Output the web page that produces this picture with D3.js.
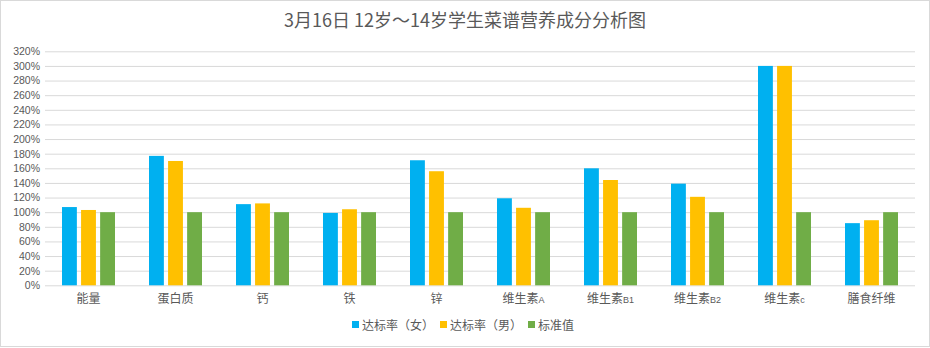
<!DOCTYPE html>
<html><head><meta charset="utf-8">
<script src="https://cdn.jsdelivr.net/npm/d3@7"></script>
<style>body{margin:0;background:#fff;}svg{display:block;font-family:"Noto Sans CJK SC","Microsoft YaHei",sans-serif;}</style>
</head><body>
<svg id="c" width="930" height="348"></svg>
<script>
const categories = ["能量","蛋白质","钙","铁","锌","维生素A","维生素B1","维生素B2","维生素c","膳食纤维"];
const seriesNames = ["达标率（女）","达标率（男）","标准值"];
const female = [107,177,111,99,171,119,160,139,300,85];
const male = [103,170,112,104,156,106,144,121,300,89];
const standard = [100,100,100,100,100,100,100,100,100,100];
const yTicks = [0,20,40,60,80,100,120,140,160,180,200,220,240,260,280,300,320];
const colors = ["#00b0f0","#ffc000","#70ad47"];
const title = "3月16日 12岁～14岁学生菜谱营养成分分析图";

(function(){
const svg = d3.select("#c");
svg.append("rect").attr("x",0.5).attr("y",0.5).attr("width",929).attr("height",346)
  .attr("fill","#fff").attr("stroke","#d9d9d9");

const pl=45, pr=915, pt=51.3, pb=285.3;
const x = d3.scaleBand().domain(categories).range([pl,pr]).paddingInner(0).paddingOuter(0);
const y = d3.scaleLinear().domain([0,320]).range([pb,pt]);
const xs = d3.scaleBand().domain([0,1,2]).range([17,70]).paddingInner(0.22);

svg.append("text").attr("x",465).attr("y",27).attr("text-anchor","middle")
  .attr("font-size",18).attr("fill","#595959").text(title);

const yAxis = d3.axisLeft(y).tickValues(yTicks).tickFormat(d=>d+"%").tickSize(-(pr-pl)).tickPadding(5);
const ga = svg.append("g").attr("transform",`translate(${pl},0)`).call(yAxis);
ga.select(".domain").remove();
ga.selectAll(".tick line").attr("stroke","#d9d9d9").attr("stroke-width",1);
ga.selectAll(".tick text").attr("fill","#595959").attr("font-size",10.5).attr("font-family","Liberation Sans, Arial, sans-serif");

const data = [female, male, standard];
data.forEach((arr,si)=>{
  svg.append("g").selectAll("rect").data(arr).join("rect")
    .attr("x",(d,i)=>x(categories[i])+xs(si))
    .attr("width",xs.bandwidth())
    .attr("y",d=>y(d))
    .attr("height",d=>pb-y(d))
    .attr("fill",colors[si]);
});

const xl = svg.append("g");
categories.forEach(c=>{
  const t = xl.append("text").attr("x",x(c)+x.bandwidth()/2).attr("y",303)
    .attr("text-anchor","middle").attr("font-size",12).attr("fill","#595959");
  const m = c.match(/^(.*?)([A-Za-z0-9]+)$/);
  if(m){
    t.append("tspan").text(m[1]);
    t.append("tspan").attr("font-size",9).attr("font-family","Liberation Sans, Arial, sans-serif").text(m[2]);
  } else t.text(c);
});

const lg = svg.append("g");
const lx=[352,440,528];
seriesNames.forEach((n,i)=>{
  lg.append("rect").attr("x",lx[i]).attr("y",321).attr("width",7).attr("height",7).attr("fill",colors[i]);
  lg.append("text").attr("x",lx[i]+10).attr("y",330).attr("font-size",12).attr("fill","#595959").text(n);
});
})();
</script>
</body></html>
